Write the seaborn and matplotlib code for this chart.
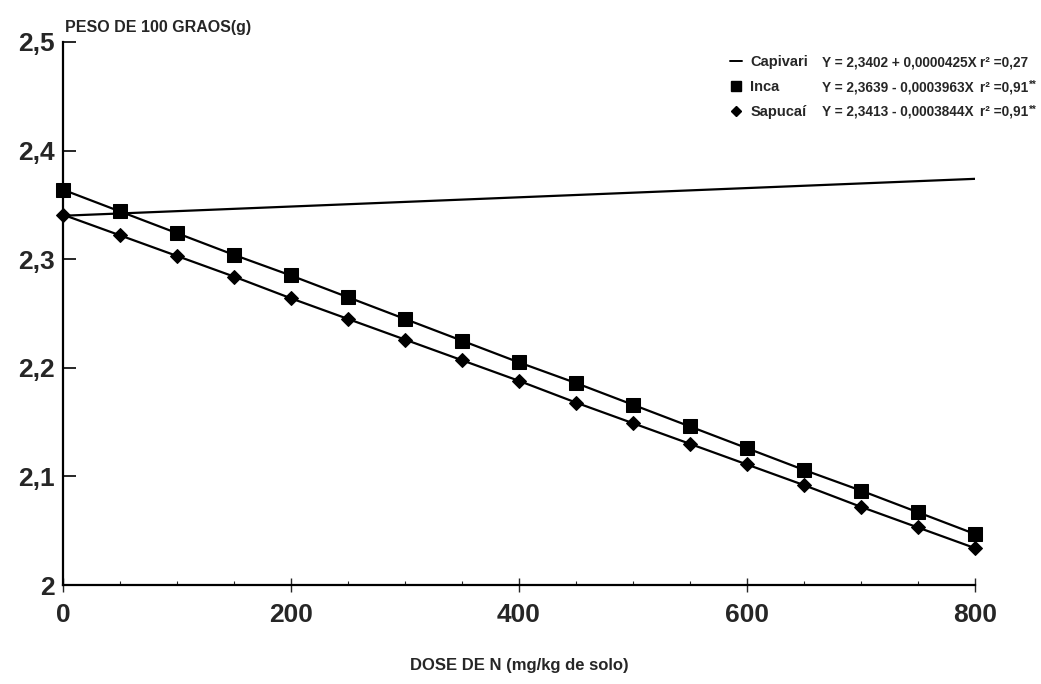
import matplotlib
matplotlib.use('Agg')
import matplotlib.pyplot as plt
import matplotlib.ticker as mticker
from matplotlib.lines import Line2D
import seaborn as sns
import pandas as pd

# dose of N (mg/kg de solo)
doses = [0, 50, 100, 150, 200, 250, 300, 350, 400, 450, 500, 550, 600, 650, 700, 750, 800]
inca = [2.364, 2.344, 2.324, 2.304, 2.285, 2.265, 2.245, 2.225, 2.205,
        2.186, 2.166, 2.146, 2.126, 2.106, 2.087, 2.067, 2.047]
sapucai = [2.341, 2.322, 2.303, 2.284, 2.264, 2.245, 2.226, 2.207, 2.188,
           2.168, 2.149, 2.130, 2.111, 2.092, 2.072, 2.053, 2.034]
capivari_x = [0, 800]
capivari = [2.340, 2.374]

names = ['Capivari', 'Inca', 'Sapucaí']
equations = ['Y = 2,3402 + 0,0000425X', 'Y = 2,3639 - 0,0003963X', 'Y = 2,3413 - 0,0003844X']
r2 = ['r² =0,27', 'r² =0,91', 'r² =0,91']
signif = ['', '**', '**']

sns.set_style('white')
plt.rcParams['font.family'] = ['Liberation Sans', 'DejaVu Sans']

fig = plt.figure(figsize=(10.41, 6.84), dpi=100)
ax = fig.add_axes([0.0605, 0.1447, 0.876, 0.7939])

df_inca = pd.DataFrame({'dose': doses, 'peso': inca})
df_sap = pd.DataFrame({'dose': doses, 'peso': sapucai})
df_cap = pd.DataFrame({'dose': capivari_x, 'peso': capivari})

sns.lineplot(x='dose', y='peso', data=df_cap, color='black', linewidth=1.6, ax=ax)
sns.lineplot(x='dose', y='peso', data=df_inca, color='black', linewidth=1.6,
             marker='s', markersize=10, markeredgecolor='black', ax=ax, clip_on=False)
sns.lineplot(x='dose', y='peso', data=df_sap, color='black', linewidth=1.6,
             marker='D', markersize=7.5, markeredgecolor='black', ax=ax, clip_on=False)

ax.set_xlim(0, 800)
ax.set_ylim(2, 2.5)
ax.set_xticks([0, 200, 400, 600, 800])
ax.xaxis.set_minor_locator(mticker.MultipleLocator(50))
ax.set_yticks([2, 2.1, 2.2, 2.3, 2.4, 2.5])
ax.set_yticklabels(['2', '2,1', '2,2', '2,3', '2,4', '2,5'])

for s in ['top', 'right']:
    ax.spines[s].set_visible(False)
for s in ['left', 'bottom']:
    ax.spines[s].set_color('black')
    ax.spines[s].set_linewidth(1.6)

ax.tick_params(axis='y', direction='in', length=9, width=1.4, labelsize=19, pad=6)
ax.tick_params(axis='x', which='major', direction='inout', length=10, width=1, labelsize=19, pad=8)
ax.tick_params(axis='x', which='minor', direction='in', length=3, width=0.8)
ax.tick_params(left=True, bottom=True)
ax.xaxis.set_tick_params(which='minor', bottom=True)
for lab in ax.get_xticklabels() + ax.get_yticklabels():
    lab.set_fontweight('bold')

ax.set_xlabel('DOSE DE N (mg/kg de solo)', fontsize=12, fontweight='bold', labelpad=22)
ax.set_ylabel('PESO DE 100 GRAOS(g)', fontsize=11.5, fontweight='bold', rotation=0,
              ha='left', va='bottom')
ax.yaxis.set_label_coords(0.002, 1.012)

# legend with names, equations alongside
handles = [Line2D([], [], color='black', linewidth=1.4),
           Line2D([], [], color='black', marker='s', markersize=7, linestyle='none'),
           Line2D([], [], color='black', marker='D', markersize=5.5, linestyle='none')]
leg = ax.legend(handles, names, loc='upper left', bbox_to_anchor=(0.717, 1.0),
                frameon=False, handlelength=0.8, handletextpad=0.6, labelspacing=0.75,
                prop={'size': 10.5, 'weight': 'bold'})

fig.canvas.draw()
inv = fig.transFigure.inverted()
r_texts = []
for t, eq, r in zip(leg.get_texts(), equations, r2):
    bb = t.get_window_extent()
    y = inv.transform((0, (bb.y0 + bb.y1) / 2))[1]
    fig.text(0.790, y, eq, fontsize=9.8, fontweight='bold', va='center')
    r_texts.append(fig.text(0.941, y, r, fontsize=9.8, fontweight='bold', va='center'))

fig.canvas.draw()
for rt, sg in zip(r_texts, signif):
    if sg:
        bb = rt.get_window_extent()
        x1, ytop = inv.transform((bb.x1 + 1, bb.y1))
        fig.text(x1, ytop, sg, fontsize=7, fontweight='bold', va='top')

fig.savefig('out.png', dpi=100)
